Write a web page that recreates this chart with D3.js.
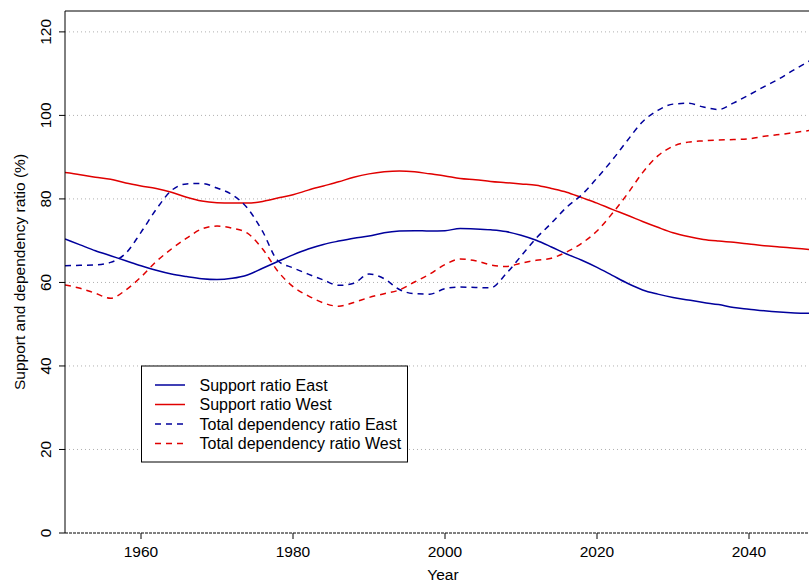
<!DOCTYPE html>
<html lang="en">
<head>
  <meta charset="UTF-8">
  <title>Support and dependency ratio</title>
  <script src="https://d3js.org/d3.v7.min.js"></script>
  <style>
    body { margin: 0; background: #fff; }
    text { font-family: "Liberation Sans", Arial, Helvetica, sans-serif; fill: #000; }
  </style>
</head>
<body>
  <svg width="809" height="583"></svg>

  <script>
    // years (every 2nd year) and the four series
    const years = d3.range(1950, 2049, 2);

    const supportEast = [
      70.4, 69.0, 67.6, 66.4, 65.2, 64.0, 62.9, 62.0, 61.4, 60.9,
      60.7, 61.0, 61.8, 63.4, 65.0, 66.6, 68.0, 69.1, 69.9, 70.6,
      71.1, 71.9, 72.3, 72.4, 72.3, 72.4, 72.9, 72.8, 72.6, 72.2,
      71.3, 70.1, 68.5, 66.8, 65.3, 63.6, 61.7, 59.8, 58.2, 57.2,
      56.4, 55.8, 55.2, 54.7, 54.0, 53.6, 53.2, 52.9, 52.7, 52.6
    ];
    const supportWest = [
      86.3, 85.8, 85.2, 84.7, 83.8, 83.1, 82.5, 81.6, 80.4, 79.5,
      79.1, 79.0, 79.0, 79.4, 80.2, 81.0, 82.1, 83.1, 84.1, 85.2,
      86.0, 86.5, 86.7, 86.5, 86.0, 85.5, 84.9, 84.6, 84.2, 83.9,
      83.6, 83.3, 82.5, 81.6, 80.3, 79.0, 77.5, 76.1, 74.6, 73.2,
      71.9, 71.0, 70.3, 69.9, 69.6, 69.2, 68.8, 68.5, 68.2, 67.9
    ];
    const dependencyEast = [
      64.0, 64.1, 64.2, 64.8, 67.0, 72.0, 77.5, 82.0, 83.6, 83.7,
      82.6, 81.0, 77.8, 72.2, 65.2, 63.5, 62.0, 60.6, 59.3, 59.8,
      62.0, 60.9, 58.3, 57.3, 57.2, 58.5, 58.9, 58.8, 58.7, 62.0,
      66.3, 70.6, 74.2, 78.0, 81.0, 85.0, 89.3, 94.0, 98.5, 101.2,
      102.7, 102.9, 102.0, 101.4, 103.0, 104.9, 106.9, 108.8, 111.0, 113.1
    ];
    const dependencyWest = [
      59.4, 58.6, 57.4, 56.2, 58.2, 61.3, 65.0, 68.0, 70.6, 72.8,
      73.5, 73.0, 71.8, 68.0, 62.7, 59.0, 56.8, 55.1, 54.3, 55.2,
      56.4, 57.3, 58.2, 60.1, 62.0, 64.3, 65.6, 65.2, 64.2, 63.8,
      64.6, 65.3, 65.8, 67.3, 69.4, 72.3, 76.5, 81.2, 86.3, 90.3,
      92.6, 93.6, 93.9, 94.1, 94.2, 94.4, 95.0, 95.4, 95.9, 96.4
    ];

    const xTicks = [1960, 1980, 2000, 2020, 2040];
    const yTicks = [0, 20, 40, 60, 80, 100, 120];

    const blue = '#00009c';
    const red = '#e00000';

    const series = [
      { name: 'Support ratio East', values: supportEast, color: blue, dash: null },
      { name: 'Support ratio West', values: supportWest, color: red, dash: null },
      { name: 'Total dependency ratio East', values: dependencyEast, color: blue, dash: '6,5' },
      { name: 'Total dependency ratio West', values: dependencyWest, color: red, dash: '6,5' }
    ];

    const svg = d3.select('svg');
    const plotL = 65, plotT = 11, plotB = 533, plotR = 825;

    const x = d3.scaleLinear().domain([1950, 2050]).range([plotL, plotR]);
    const y = d3.scaleLinear().domain([0, 125]).range([plotB, plotT]);

    // clip for the plot region
    svg.append('clipPath').attr('id', 'plot')
      .append('rect')
      .attr('x', plotL).attr('y', plotT)
      .attr('width', plotR - plotL).attr('height', plotB - plotT);

    // dotted horizontal grid
    svg.selectAll('.grid')
      .data(yTicks.filter(d => d > 0))
      .enter().append('line')
      .attr('class', 'grid')
      .attr('x1', plotL).attr('x2', plotR)
      .attr('y1', d => y(d)).attr('y2', d => y(d))
      .attr('stroke', '#b0b0b0')
      .attr('stroke-dasharray', '1,3');

    // lines
    const line = d3.line()
      .x((d, i) => x(years[i]))
      .y(d => y(d))
      .curve(d3.curveMonotoneX);

    svg.append('g').attr('clip-path', 'url(#plot)')
      .selectAll('path')
      .data(series)
      .enter().append('path')
      .attr('d', d => line(d.values))
      .attr('fill', 'none')
      .attr('stroke', d => d.color)
      .attr('stroke-width', 1.5)
      .attr('stroke-dasharray', d => d.dash);

    // box: left and top solid, bottom dashed-looking
    svg.append('line')
      .attr('x1', plotL).attr('x2', plotL).attr('y1', plotT).attr('y2', plotB)
      .attr('stroke', '#000');
    svg.append('line')
      .attr('x1', plotL).attr('x2', plotR).attr('y1', plotT).attr('y2', plotT)
      .attr('stroke', '#000');
    svg.append('line')
      .attr('x1', plotL).attr('x2', plotR).attr('y1', plotB).attr('y2', plotB)
      .attr('stroke', '#000')
      .attr('stroke-dasharray', '3,1');

    // x axis ticks and labels
    const xAxis = svg.append('g');
    xAxis.selectAll('line')
      .data(xTicks)
      .enter().append('line')
      .attr('x1', d => x(d)).attr('x2', d => x(d))
      .attr('y1', plotB).attr('y2', plotB + 6)
      .attr('stroke', '#000');
    xAxis.selectAll('text')
      .data(xTicks)
      .enter().append('text')
      .attr('x', d => x(d))
      .attr('y', 557)
      .attr('text-anchor', 'middle')
      .attr('font-size', 15.5)
      .text(d => d);

    // y axis ticks and rotated labels
    const yAxis = svg.append('g');
    yAxis.selectAll('line')
      .data(yTicks)
      .enter().append('line')
      .attr('x1', plotL - 6).attr('x2', plotL)
      .attr('y1', d => y(d)).attr('y2', d => y(d))
      .attr('stroke', '#000');
    yAxis.selectAll('text')
      .data(yTicks)
      .enter().append('text')
      .attr('transform', d => `translate(50.5,${y(d)}) rotate(-90)`)
      .attr('text-anchor', 'middle')
      .attr('font-size', 15.5)
      .text(d => d);

    // axis titles
    svg.append('text')
      .attr('x', 443).attr('y', 580)
      .attr('text-anchor', 'middle')
      .attr('font-size', 15.5)
      .text('Year');
    svg.append('text')
      .attr('transform', `translate(24.5,${(plotT + plotB) / 2}) rotate(-90)`)
      .attr('text-anchor', 'middle')
      .attr('font-size', 15.5)
      .text('Support and dependency ratio (%)');

    // legend
    const legend = svg.append('g');
    legend.append('rect')
      .attr('x', 141.5).attr('y', 366)
      .attr('width', 266).attr('height', 96)
      .attr('fill', '#fff')
      .attr('stroke', '#000');
    const rows = legend.selectAll('.row')
      .data(series)
      .enter().append('g')
      .attr('class', 'row')
      .attr('transform', (d, i) => `translate(0,${385 + i * 19.5})`);
    rows.append('line')
      .attr('x1', 155).attr('x2', 185)
      .attr('stroke', d => d.color)
      .attr('stroke-width', 1.5)
      .attr('stroke-dasharray', d => d.dash);
    rows.append('text')
      .attr('x', 199.5)
      .attr('dy', '0.35em')
      .attr('font-size', 16)
      .text(d => d.name);
  </script>
</body>
</html>
